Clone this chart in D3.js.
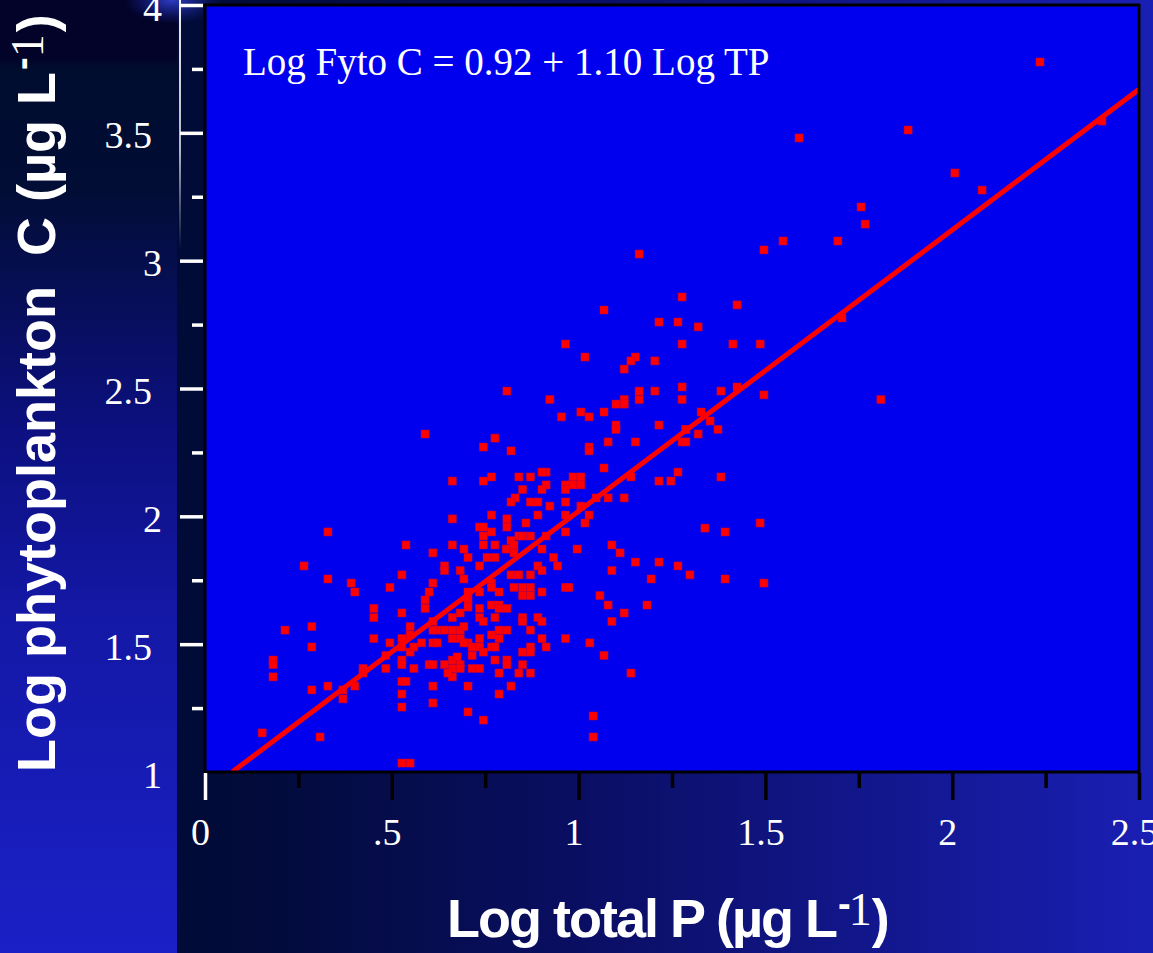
<!DOCTYPE html>
<html>
<head>
<meta charset="utf-8">
<script src="https://cdn.jsdelivr.net/npm/d3@7"></script>
<style>
  html, body { margin: 0; padding: 0; background: #000b30; overflow: hidden; }
  svg { display: block; }
</style>
</head>
<body>
<div id="chart-area"></div>
<script>
/* Data: log total P vs log phytoplankton C */
const logTP = [
  2.235, 1.882, 1.590, 2.007, 2.080, 1.756, 1.767, 1.694, 2.401, 1.705,
  1.809, 1.547, 1.496, 1.162, 1.277, 1.424, 1.068, 1.215, 1.266, 1.320,
  0.965, 1.277, 1.413, 1.486, 1.017, 1.152, 1.140, 1.204, 1.122, 1.162,
  1.204, 1.277, 1.277, 1.162, 1.381, 1.424, 1.496, 0.923, 1.100, 1.122,
  1.122, 0.954, 1.006, 1.028, 1.068, 1.328, 1.352, 1.373, 1.320, 1.215,
  1.287, 1.100, 1.100, 1.079, 1.152, 1.028, 1.028, 1.277, 1.287, 1.068,
  1.140, 1.266, 1.215, 1.247, 1.381, 0.985, 1.006, 0.985, 1.006, 0.965,
  0.965, 1.047, 1.079, 1.122, 0.923, 0.965, 1.006, 0.965, 1.028, 1.017,
  0.965, 1.338, 1.392, 1.486, 1.089, 0.996, 1.111, 0.933, 0.944, 1.152,
  1.215, 1.266, 1.089, 1.298, 1.194, 1.392, 1.496, 0.965, 0.974, 1.057,
  1.079, 1.183, 1.122, 1.089, 1.030, 1.068, 1.140, 1.039, 1.039, 0.808,
  0.589, 0.776, 0.745, 0.819, 0.913, 0.902, 0.840, 0.871, 0.767, 0.662,
  0.745, 0.850, 0.913, 0.902, 0.830, 0.819, 0.871, 0.891, 0.662, 0.767,
  0.808, 0.808, 0.891, 0.859, 0.735, 0.745, 0.767, 0.745, 0.840, 0.850,
  0.871, 0.913, 0.329, 0.538, 0.662, 0.693, 0.745, 0.776, 0.819, 0.827,
  0.806, 0.827, 0.902, 0.610, 0.704, 0.755, 0.776, 0.265, 0.641, 0.641,
  0.683, 0.735, 0.527, 0.693, 0.819, 0.840, 0.871, 0.891, 0.902, 0.329,
  0.391, 0.401, 0.495, 0.610, 0.600, 0.704, 0.735, 0.767, 0.767, 0.827,
  0.850, 0.871, 0.787, 0.902, 0.850, 0.871, 0.589, 0.589, 0.452, 0.452,
  0.527, 0.610, 0.662, 0.683, 0.704, 0.704, 0.735, 0.735, 0.745, 0.767,
  0.787, 0.787, 0.808, 0.776, 0.850, 0.850, 0.891, 0.902, 0.214, 0.286,
  0.286, 0.452, 0.495, 0.527, 0.527, 0.549, 0.549, 0.549, 0.559, 0.580,
  0.610, 0.621, 0.621, 0.641, 0.662, 0.662, 0.683, 0.683, 0.693, 0.704,
  0.715, 0.715, 0.735, 0.735, 0.745, 0.767, 0.767, 0.787, 0.787, 0.808,
  0.776, 0.871, 0.902, 0.850, 0.871, 0.871, 0.913, 0.965, 0.182, 0.182,
  0.182, 0.286, 0.329, 0.369, 0.369, 0.401, 0.423, 0.423, 0.484, 0.484,
  0.527, 0.527, 0.559, 0.600, 0.610, 0.641, 0.662, 0.675, 0.662, 0.662,
  0.683, 0.683, 0.650, 0.715, 0.735, 0.776, 0.808, 0.808, 0.850, 0.787,
  0.840, 0.871, 0.527, 0.538, 0.610, 0.704, 0.819, 0.527, 0.787, 0.527,
  0.610, 0.704, 0.745, 0.153, 0.308, 0.527, 0.549, 0.610, 0.693, 1.287
]
const logPhytoC = [
  3.777, 3.511, 3.480, 3.343, 3.276, 3.210, 3.143, 3.077, 3.546, 2.776,
  2.457, 3.077, 3.042, 3.026, 2.858, 2.827, 2.807, 2.760, 2.760, 2.741,
  2.674, 2.674, 2.674, 2.674, 2.623, 2.623, 2.608, 2.608, 2.576, 2.490,
  2.490, 2.506, 2.457, 2.457, 2.490, 2.506, 2.475, 2.457, 2.439, 2.457,
  2.439, 2.389, 2.408, 2.389, 2.408, 2.408, 2.373, 2.340, 2.322, 2.357,
  2.340, 2.357, 2.340, 2.291, 2.291, 2.271, 2.256, 2.291, 2.291, 2.189,
  2.154, 2.173, 2.138, 2.138, 2.154, 2.154, 2.154, 2.123, 2.123, 2.123,
  2.105, 2.072, 2.072, 2.072, 2.040, 2.056, 2.040, 2.005, 2.005, 1.974,
  1.939, 1.954, 1.939, 1.974, 1.888, 1.872, 1.857, 1.839, 1.806, 1.821,
  1.821, 1.806, 1.788, 1.771, 1.755, 1.755, 1.739, 1.722, 1.722, 1.690,
  1.653, 1.653, 1.622, 1.589, 1.505, 1.456, 1.387, 1.219, 1.137, 2.490,
  2.322, 2.306, 2.271, 2.256, 2.173, 2.173, 2.154, 2.154, 2.154, 2.138,
  2.138, 2.105, 2.123, 2.105, 2.072, 2.056, 2.056, 2.056, 1.990, 2.005,
  1.990, 1.958, 2.005, 1.974, 1.958, 1.958, 1.939, 1.923, 1.923, 1.923,
  1.923, 1.923, 1.939, 1.888, 1.888, 1.872, 1.888, 1.888, 1.905, 1.888,
  1.872, 1.857, 1.872, 1.857, 1.839, 1.839, 1.839, 1.806, 1.806, 1.788,
  1.788, 1.806, 1.771, 1.755, 1.771, 1.771, 1.771, 1.806, 1.788, 1.755,
  1.739, 1.704, 1.722, 1.739, 1.704, 1.704, 1.704, 1.739, 1.722, 1.722,
  1.722, 1.722, 1.704, 1.704, 1.690, 1.690, 1.673, 1.640, 1.640, 1.604,
  1.622, 1.589, 1.604, 1.622, 1.673, 1.645, 1.640, 1.604, 1.589, 1.653,
  1.653, 1.640, 1.640, 1.604, 1.604, 1.589, 1.604, 1.589, 1.555, 1.569,
  1.489, 1.522, 1.505, 1.522, 1.489, 1.569, 1.536, 1.469, 1.489, 1.505,
  1.505, 1.505, 1.555, 1.555, 1.555, 1.522, 1.555, 1.522, 1.569, 1.505,
  1.489, 1.456, 1.522, 1.489, 1.469, 1.536, 1.489, 1.555, 1.522, 1.555,
  1.489, 1.555, 1.522, 1.469, 1.489, 1.469, 1.489, 1.522, 1.438, 1.420,
  1.372, 1.321, 1.336, 1.321, 1.286, 1.336, 1.405, 1.387, 1.456, 1.405,
  1.438, 1.420, 1.405, 1.420, 1.420, 1.420, 1.438, 1.450, 1.405, 1.372,
  1.420, 1.405, 1.387, 1.405, 1.405, 1.438, 1.438, 1.420, 1.420, 1.387,
  1.387, 1.387, 1.354, 1.354, 1.336, 1.336, 1.336, 1.305, 1.305, 1.254,
  1.270, 1.235, 1.203, 1.153, 1.137, 1.035, 1.035, 1.555, 1.505, 2.340
]

// regression: Log Fyto C = 0.92 + 1.10 Log TP
const fitIntercept = 0.92
const fitSlope = 1.10
const fitLabel = 'Log Fyto C = 0.92 + 1.10 Log TP'

const xTickValues = [0, 0.5, 1, 1.5, 2, 2.5]
const xTickLabels = ['0', '.5', '1', '1.5', '2', '2.5']
const xMinorTicks = [0.25, 0.75, 1.25, 1.75, 2.25]
const yTickValues = [1, 1.5, 2, 2.5, 3, 3.5, 4]
const yTickLabels = ['1', '1.5', '2', '2.5', '3', '3.5', '4']
const yMinorTicks = [1.25, 1.75, 2.25, 2.75, 3.25, 3.75]

/* Canvas */
const CANVAS_WIDTH = 1153
const CANVAS_HEIGHT = 953
const plot = { left: 205, right: 1139, top: 5, bottom: 772 }

const $svg = d3.select('#chart-area')
  .append('svg')
  .attr('width', CANVAS_WIDTH)
  .attr('height', CANVAS_HEIGHT)

const defs = $svg.append('defs')

function linearGradient(id, x2, y2, stops) {
  const g = defs.append('linearGradient').attr('id', id)
    .attr('x1', 0).attr('y1', 0).attr('x2', x2).attr('y2', y2)
  stops.forEach(([o, c, op]) => g.append('stop').attr('offset', o).attr('stop-color', c).attr('stop-opacity', op == null ? 1 : op))
}

linearGradient('stripGrad', 0, 1, [[0, '#030228'], [0.06, '#030228'], [0.07, '#000c2e'], [0.2, '#020d36'], [0.45, '#0c1080'], [0.65, '#1418a6'], [1, '#1a20c6']])
linearGradient('panelGrad', 1, 0, [[0, '#000b30'], [0.22, '#020b3a'], [0.5, '#0a0e62'], [1, '#1a1fb4']])
linearGradient('fadeGrad', 0, 1, [[0, '#ffffff', 0.95], [0.6, '#ffffff', 0.7], [1, '#ffffff', 0]])

const glow = defs.append('radialGradient').attr('id', 'glowGrad')
glow.append('stop').attr('offset', 0).attr('stop-color', '#3444d8').attr('stop-opacity', 0.9)
glow.append('stop').attr('offset', 1).attr('stop-color', '#1a28b0').attr('stop-opacity', 0)

defs.append('clipPath').attr('id', 'plotClip')
  .append('rect')
  .attr('x', plot.left).attr('y', plot.top)
  .attr('width', plot.right - plot.left).attr('height', plot.bottom - plot.top)

/* Background */
$svg.append('rect').attr('width', CANVAS_WIDTH).attr('height', CANVAS_HEIGHT).attr('fill', 'url(#panelGrad)')
$svg.append('rect').attr('width', 177).attr('height', CANVAS_HEIGHT).attr('fill', 'url(#stripGrad)')
$svg.append('ellipse').attr('cx', 172).attr('cy', 0).attr('rx', 48).attr('ry', 24).attr('fill', 'url(#glowGrad)')
$svg.append('rect').attr('x', 179).attr('y', 0).attr('width', 2).attr('height', 250).attr('fill', 'url(#fadeGrad)')

/* Scales */
const x = d3.scaleLinear().domain([0, 2.5]).range([plot.left, plot.right])
const y = d3.scaleLinear().domain([1, 4]).range([plot.bottom, plot.top])

/* Plot area */
$svg.append('rect')
  .attr('x', plot.left).attr('y', plot.top)
  .attr('width', plot.right - plot.left).attr('height', plot.bottom - plot.top)
  .attr('fill', '#0000ee')

const $plot = $svg.append('g').attr('clip-path', 'url(#plotClip)')

// points
const points = logTP.map((v, i) => ({ tp: v, c: logPhytoC[i] }))
$plot.selectAll('rect.pt')
  .data(points)
  .enter().append('rect')
  .attr('class', 'pt')
  .attr('x', d => x(d.tp) - 4)
  .attr('y', d => y(d.c) - 4)
  .attr('width', 8)
  .attr('height', 8)
  .attr('fill', '#ff0000')
  .attr('stroke', '#c0003c')
  .attr('stroke-opacity', 0.6)
  .attr('stroke-width', 0.8)

// regression line from where it enters the frame (y = 1) to the right edge
const xStart = (1 - fitIntercept) / fitSlope
const fitLine = d3.line().x(d => x(d)).y(d => y(fitIntercept + fitSlope * d))
$plot.append('path')
  .attr('d', fitLine([xStart, 2.5]))
  .attr('fill', 'none')
  .attr('stroke', '#ff0000')
  .attr('stroke-width', 5)

// frame
$svg.append('rect')
  .attr('x', plot.left).attr('y', plot.top)
  .attr('width', plot.right - plot.left).attr('height', plot.bottom - plot.top)
  .attr('fill', 'none')
  .attr('stroke', '#000')
  .attr('stroke-width', 3)

// equation
$svg.append('text')
  .attr('x', 243).attr('y', 75)
  .attr('font-family', '"Liberation Serif", "Times New Roman", serif')
  .attr('font-size', 39)
  .attr('fill', '#fff')
  .text(fitLabel)

/* Axes */
const serif = '"Liberation Serif", "Times New Roman", serif'

// y axis
const $yAxis = $svg.append('g').attr('transform', `translate(${plot.left - 2}, 0)`)
$yAxis.call(d3.axisLeft(y).tickValues(yTickValues).tickSize(23)
  .tickFormat((d, i) => yTickLabels[i]))
$yAxis.append('g').call(d3.axisLeft(y).tickValues(yMinorTicks).tickSize(11).tickFormat(''))
$yAxis.selectAll('.domain').remove()
$yAxis.selectAll('.tick line')
  .attr('stroke', '#fff')
  .attr('stroke-width', 3.5)
  .attr('display', d => d === 1 ? 'none' : null)
$yAxis.selectAll('.tick text')
  .attr('font-family', serif)
  .attr('font-size', 38)
  .attr('fill', '#fff')
  .attr('x', d => Number.isInteger(d) ? -41 : -51)
  .attr('dy', 15)

// x axis
const $xAxis = $svg.append('g').attr('transform', `translate(0, ${plot.bottom + 1})`)
$xAxis.call(d3.axisBottom(x).tickValues(xTickValues).tickSize(27)
  .tickFormat((d, i) => xTickLabels[i]))
$xAxis.append('g').call(d3.axisBottom(x).tickValues(xMinorTicks).tickSize(15).tickFormat(''))
$xAxis.selectAll('.domain').remove()
$xAxis.selectAll('.tick line')
  .attr('stroke', d => d === 0 ? '#fff' : '#000')
  .attr('stroke-width', 3.5)
$xAxis.selectAll('.tick text')
  .attr('font-family', serif)
  .attr('font-size', 38)
  .attr('fill', '#fff')
  .attr('y', 72)
  .attr('dy', 0)
  .attr('dx', -5)

/* Labels */
function axisTitle(g, mainText, spacing) {
  const t = g.append('text')
    .attr('font-family', '"Liberation Sans", Arial, sans-serif')
    .attr('font-weight', 'bold')
    .attr('font-size', 54)
    .attr('letter-spacing', spacing)
    .attr('fill', '#fff')
  t.append('tspan').text(mainText)
  t.append('tspan').attr('font-size', 38).attr('dy', -20).attr('dx', 2).text('-')
  t.append('tspan').attr('font-family', serif).attr('font-weight', 'normal')
    .attr('font-size', 46).attr('dy', 8).text('1')
  t.append('tspan').attr('dy', 12).attr('dx', 2).text(')')
  return t
}

// x-label
axisTitle($svg.append('g').attr('transform', 'translate(447, 937)'), 'Log total P (µg L', -2)

// y-label
axisTitle($svg.append('g').attr('transform', 'translate(55, 772) rotate(-90)'), 'Log phytoplankton\u00a0\u00a0C (µg L', 0)
</script>
</body>
</html>
